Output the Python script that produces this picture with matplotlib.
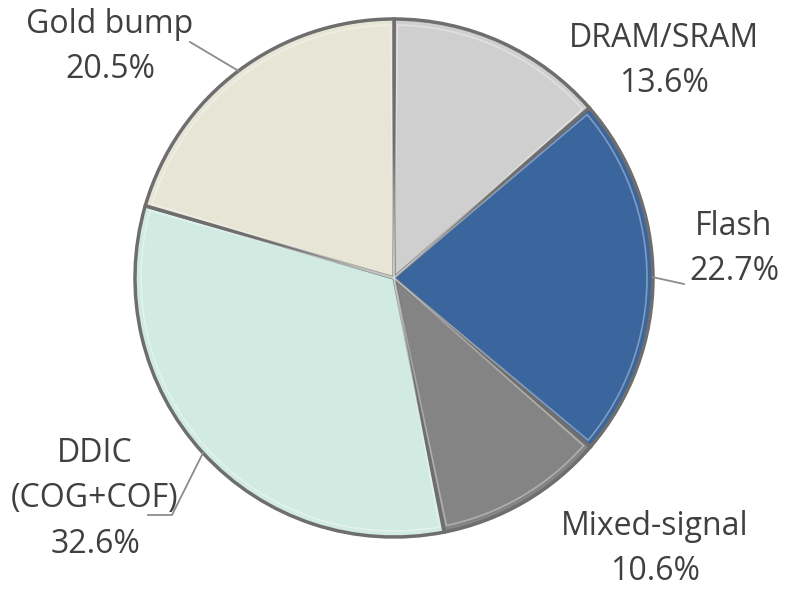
import numpy as np
import matplotlib.pyplot as plt
from matplotlib.patches import Wedge

categories = ["DRAM/SRAM", "Flash", "Mixed-signal", "DDIC\n(COG+COF)", "Gold bump"]
shares = [13.6, 22.7, 10.6, 32.6, 20.5]
colors = ["#cfcfcf", "#3b669d", "#848484", "#d2ebe2", "#e7e6d6"]

W, H = 786, 590
cx, cy, r = 394, H - 278, 259

plt.rcParams["font.family"] = ["Open Sans", "DejaVu Sans"]

fig = plt.figure(figsize=(W / 100, H / 100), dpi=100)
ax = fig.add_axes([0, 0, 1, 1])

# outer pie with dark bevel edge
wedges, _ = ax.pie(shares, colors=colors, startangle=90, counterclock=False,
                   center=(cx, cy), radius=r, frame=True,
                   wedgeprops=dict(edgecolor="#6e6e6e", linewidth=2.5))
ax.set_xlim(0, W)
ax.set_ylim(0, H)
ax.set_aspect("equal")
ax.axis("off")

# soft inner highlight to give a raised look
for w, c in zip(wedges, colors):
    ax.add_patch(Wedge((cx, cy), r - 6, w.theta1 + 0.8, w.theta2 - 0.8,
                       facecolor=c, edgecolor="white", linewidth=1.2, alpha=0.35))

# label block centres and leader line bends
label_pos = [(664, H - 61), (734, H - 249), (655, H - 549), (95, H - 499), (110, H - 47)]
leader_end = [None, (684, H - 284), None, [(172, H - 515), (148, H - 515)], (190, H - 42)]

for w, name, val, (lx, ly), lead in zip(wedges, categories, shares, label_pos, leader_end):
    ax.text(lx, ly, f"{name}\n{val:.1f}%", ha="center", va="center",
            fontsize=23, color="#404040", linespacing=1.5)
    if lead is None:
        continue
    mid = np.deg2rad((w.theta1 + w.theta2) / 2)
    pts = [(cx + r * np.cos(mid), cy + r * np.sin(mid))]
    pts += lead if isinstance(lead, list) else [lead]
    xs, ys = zip(*pts)
    ax.plot(xs, ys, color="#8c8c8c", linewidth=1.3)

fig.savefig("out.png", dpi=100, facecolor="white")
